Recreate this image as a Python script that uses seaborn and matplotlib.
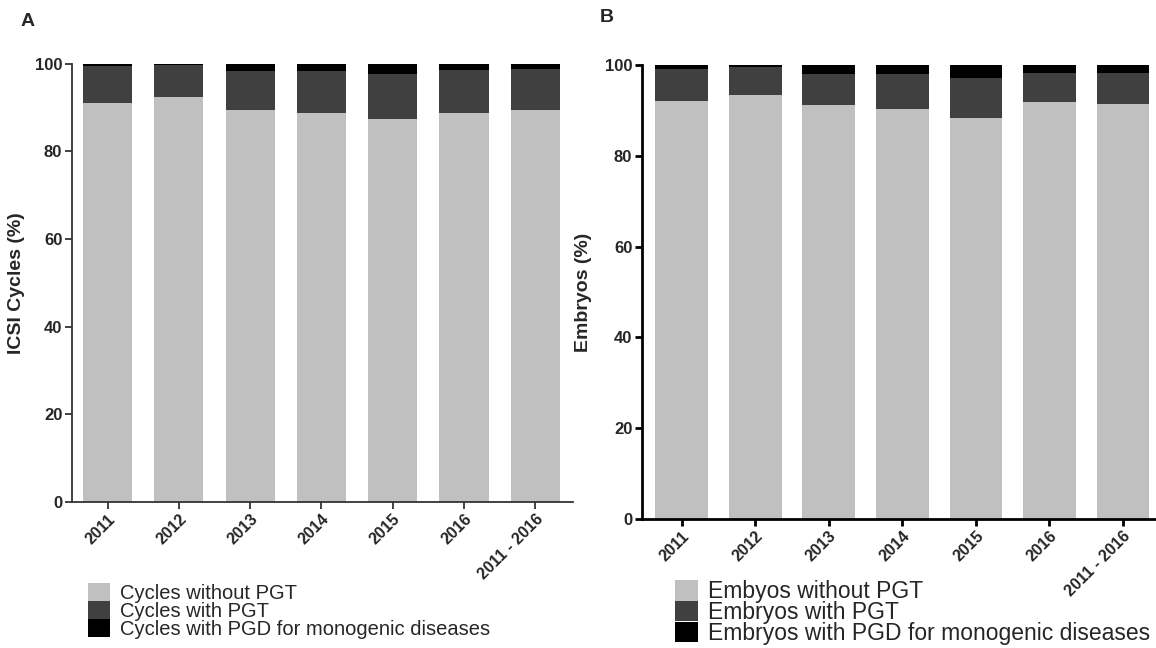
import matplotlib
matplotlib.use("Agg")
import matplotlib.pyplot as plt
from matplotlib.patches import Patch
import numpy as np
import seaborn as sns

sns.set_style("ticks")
plt.rcParams['font.family'] = ['Liberation Sans', 'DejaVu Sans']

years = ['2011', '2012', '2013', '2014', '2015', '2016', '2011 - 2016']

# Panel A: ICSI cycles (%)
cycles_without_pgt = [91.1, 92.3, 89.5, 88.6, 87.3, 88.6, 89.5]
cycles_with_pgt = [8.3, 7.4, 8.8, 9.7, 10.3, 9.9, 9.2]
cycles_pgd_mono = [0.6, 0.3, 1.7, 1.7, 2.4, 1.5, 1.3]

# Panel B: Embryos (%)
embryos_without_pgt = [92.1, 93.3, 91.2, 90.4, 88.4, 91.9, 91.3]
embryos_with_pgt = [7.1, 6.3, 6.9, 7.7, 8.7, 6.4, 7.0]
embryos_pgd_mono = [0.8, 0.4, 1.9, 1.9, 2.9, 1.7, 1.7]

labels_a = ['Cycles without PGT', 'Cycles with PGT', 'Cycles with PGD for monogenic diseases']
labels_b = ['Embyos without PGT', 'Embryos with PGT', 'Embryos with PGD for monogenic diseases']

colors = ['#c0c0c0', '#404040', '#000000']

W, H = 1156, 648
fig = plt.figure(figsize=(W / 100, H / 100), dpi=100)

ax_a = fig.add_axes([72 / W, 1 - 502 / H, 501 / W, (502 - 63.5) / H])
ax_b = fig.add_axes([642 / W, 1 - 519 / H, 514 / W, (519 - 65) / H])


def stacked(ax, s1, s2, s3, width):
    s1 = np.array(s1); s2 = np.array(s2); s3 = np.array(s3)
    layers = [(s1 + s2 + s3, colors[2]), (s1 + s2, colors[1]), (s1, colors[0])]
    for vals, c in layers:
        sns.barplot(x=years, y=vals, color=c, saturation=1, width=width,
                    ax=ax, linewidth=0, errorbar=None)


stacked(ax_a, cycles_without_pgt, cycles_with_pgt, cycles_pgd_mono, 0.69)
stacked(ax_b, embryos_without_pgt, embryos_with_pgt, embryos_pgd_mono, 0.715)

for ax, xr, lw, sc, ylab, lx in [
        (ax_a, (-0.5, 6.53), 1.3, '#333333', 'ICSI Cycles (%)', -0.094),
        (ax_b, (-0.54, 6.45), 2.0, '#000000', 'Embryos (%)', -0.097)]:
    ax.set_xlim(*xr)
    ax.set_ylim(0, 100)
    ax.set_yticks([0, 20, 40, 60, 80, 100])
    sns.despine(ax=ax)
    for s in ['left', 'bottom']:
        ax.spines[s].set_linewidth(lw)
        ax.spines[s].set_color(sc)
    ax.tick_params(axis='both', width=lw, length=5, color=sc, pad=2)
    ax.set_xticks(range(len(years)))
    ax.set_xticklabels(years, rotation=45, ha='right', rotation_mode='anchor',
                       fontsize=11.5, fontweight='bold')
    for t in ax.get_yticklabels():
        t.set_fontsize(12)
        t.set_fontweight('bold')
    ax.set_xlabel('')
    ax.set_ylabel(ylab, fontsize=14, fontweight='bold')
    ax.yaxis.set_label_coords(lx, 0.5)

handles_a = [Patch(facecolor=c, edgecolor='none') for c in colors]
fig.legend(handles_a, labels_a, loc='upper left', bbox_to_anchor=(88 / W, 1 - 583 / H),
           frameon=False, fontsize=14.5, borderpad=0, borderaxespad=0,
           handlelength=1.1, handleheight=1.0, handletextpad=0.5, labelspacing=-0.1)
fig.legend(handles_a, labels_b, loc='upper left', bbox_to_anchor=(675 / W, 1 - 580 / H),
           frameon=False, fontsize=16.5, borderpad=0, borderaxespad=0,
           handlelength=1.0, handleheight=1.0, handletextpad=0.45, labelspacing=-0.1)

fig.text(28 / W, 1 - 22 / H, 'A', fontsize=14, fontweight='bold', ha='center', va='center')
fig.text(607 / W, 1 - 17 / H, 'B', fontsize=14, fontweight='bold', ha='center', va='center')

fig.savefig('out.png', dpi=100)
